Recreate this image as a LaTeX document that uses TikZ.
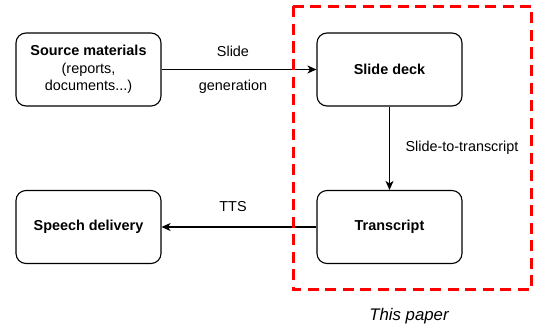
\documentclass[tikz,border=0pt]{standalone}
\usepackage{fontspec}
\setmainfont{Liberation Sans}
\usetikzlibrary{arrows.meta}
\begin{document}
\begin{tikzpicture}[x=1pt,y=-1pt,
  box/.style={draw, line width=1.1pt, rounded corners=10pt, minimum width=145pt, minimum height=73pt, align=center, font=\fontsize{14.4}{17.5}\selectfont, inner sep=0pt},
  lbl/.style={font=\fontsize{14.4}{17.5}\selectfont, inner sep=0pt},
  conn/.style={line width=1.1pt, -{Stealth[length=9pt,width=8pt,inset=2.5pt]}},
  plain/.style={line width=1.1pt}]
\useasboundingbox (0,0) rectangle (534,329);
\node[box] (src) at (88.5,69.5) {\textbf{Source materials}\\(reports,\\documents...)};
\node[box] (deck) at (389.5,69.5) {\textbf{Slide deck}};
\node[box] (tr) at (389.5,227) {\textbf{Transcript}};
\node[box] (sp) at (88.5,227) {\textbf{Speech delivery}};
\draw[conn] (src) -- (deck);
\draw[conn] (deck) -- (tr);
\draw[conn] (tr) -- (sp);
\node[lbl] (l1) at (233,51) {Slide};
\node[lbl] (l2) at (233,87) {generation};
\node[lbl] (l3) at (462,148) {Slide-to-transcript};
\node[lbl] (l4) at (233,207) {TTS};
\draw[red, line width=3pt, dash pattern=on 11pt off 6.5pt] (293,6.5) rectangle (531.5,289.5);
\node[font=\fontsize{16.8}{20}\selectfont\itshape, inner sep=0pt] (tp) at (409,316) {This paper};
\end{tikzpicture}
\end{document}
